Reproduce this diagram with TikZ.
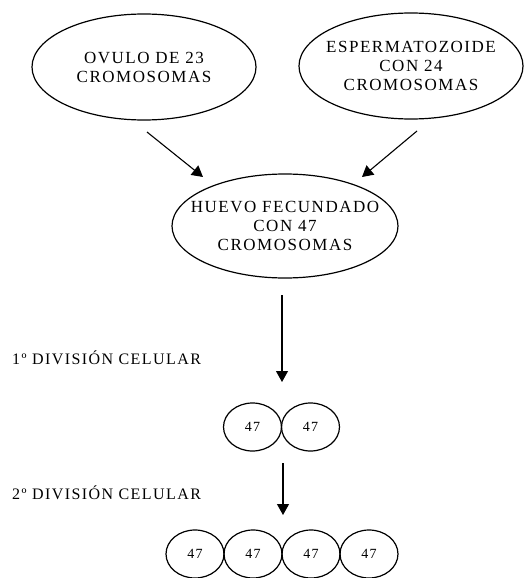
\documentclass[tikz,border=0pt]{standalone}
\usepackage{fontspec}
\setmainfont{Liberation Serif}
\newfontfamily\diagfont[LetterSpace=9]{Liberation Serif}
\usepackage{tikz}
\usetikzlibrary{shapes.geometric,arrows.meta}

\begin{document}
\begin{tikzpicture}[x=1pt,y=-1pt,
	>={Triangle[length=11pt,width=12pt]},
	every edge/.style={draw,line width=1.1pt},
	bola/.style={draw,ellipse,line width=1.2pt,inner sep=0pt,minimum width=224pt,minimum height=106pt},
	texto/.style={align=center,font=\diagfont\fontsize{17}{19}\selectfont},
	celula/.style={draw,ellipse,line width=1.2pt,inner sep=0pt,minimum width=58pt,minimum height=48pt,font=\diagfont\fontsize{14}{16}\selectfont},
	rotulo/.style={anchor=west,inner sep=0pt,font=\diagfont\fontsize{16}{18}\selectfont}]
	\useasboundingbox (0,0) rectangle (527,578);
	\node[bola,label={[texto]center:OVULO DE 23\\CROMOSOMAS}] (ovulo) at (144,67) {};
	\node[bola,label={[texto]center:ESPERMATOZOIDE\\CON 24\\CROMOSOMAS}] (esperma) at (411,66) {};
	\node[bola,minimum width=226pt,minimum height=104pt,label={[texto]center:HUEVO FECUNDADO\\CON 47\\CROMOSOMAS}] (huevo) at (285,226) {};
	\node[rotulo] (div1) at (12,358) {1º DIVISIÓN CELULAR};
	\node[celula] (c1) at (252.5,427) {47};
	\node[celula] (c2) at (310.5,427) {47};
	\node[rotulo] (div2) at (12,493) {2º DIVISIÓN CELULAR};
	\foreach \x [count=\i] in {195,253,311,369}
		\node[celula] (d\i) at (\x,554) {47};
	\coordinate (o1) at (147,132);
	\coordinate (h1) at (203,177);
	\coordinate (e1) at (417,131);
	\coordinate (h2) at (362,177);
	\coordinate (h3) at (282,295);
	\coordinate (p1) at (282,382);
	\coordinate (p2) at (283,463);
	\coordinate (p3) at (283,515);
	\path[->]
	(o1) edge (h1)
	(e1) edge (h2)
	(h3) edge (p1)
	(p2) edge (p3)
	;
\end{tikzpicture}
\end{document}
